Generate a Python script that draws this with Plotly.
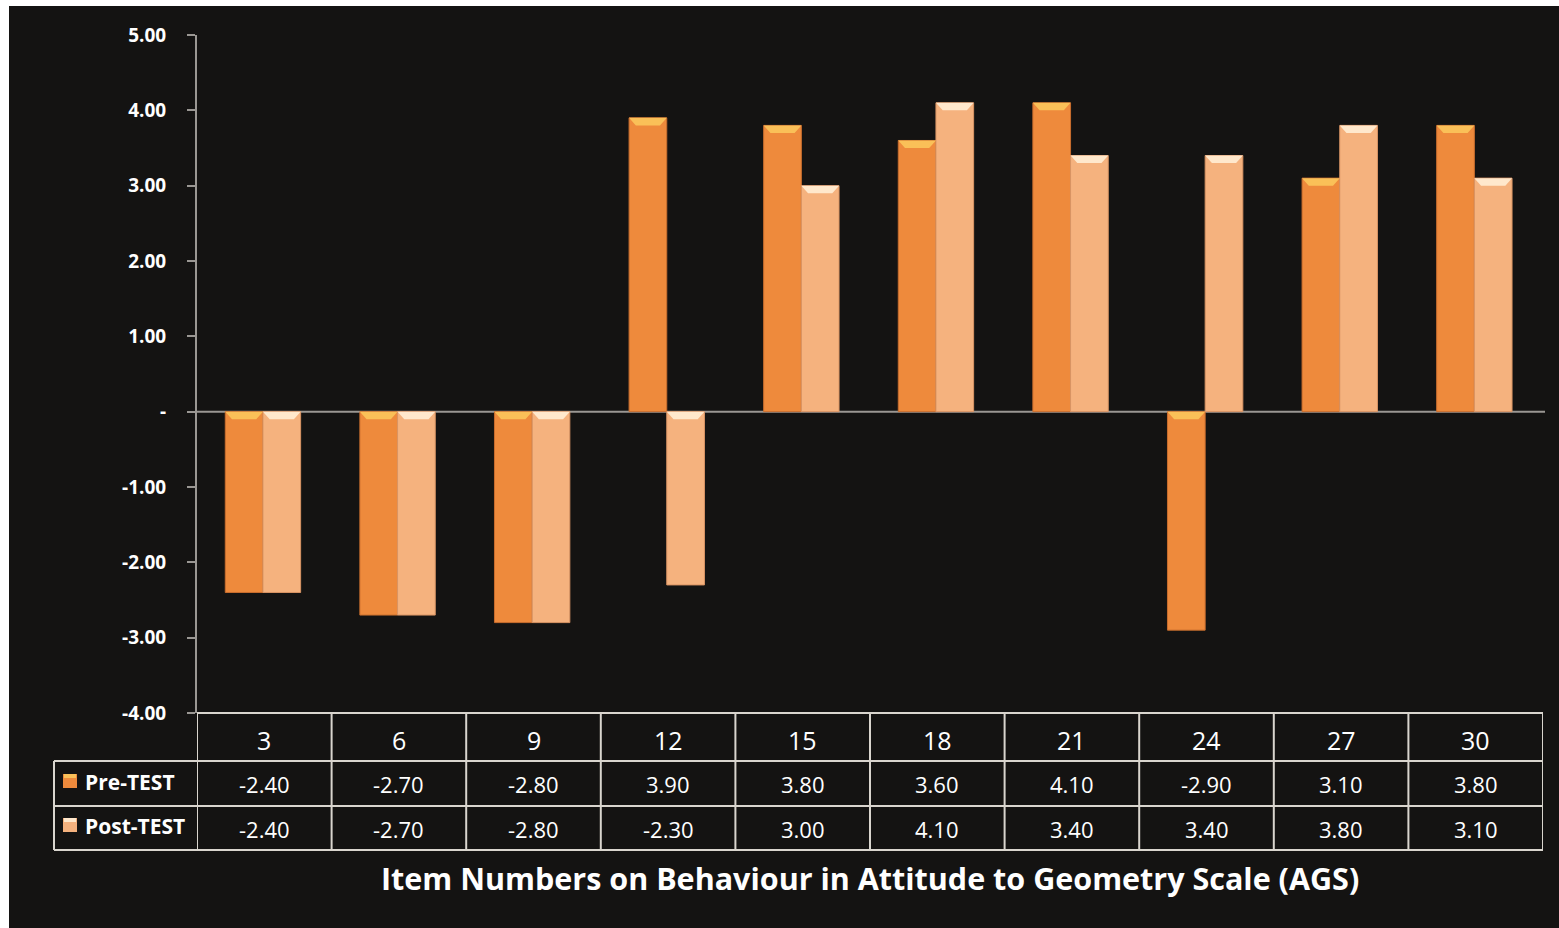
import plotly.graph_objects as go

# Item numbers and mean scores on the Attitude to Geometry Scale
items = [3, 6, 9, 12, 15, 18, 21, 24, 27, 30]
pre_test = [-2.40, -2.70, -2.80, 3.90, 3.80, 3.60, 4.10, -2.90, 3.10, 3.80]
post_test = [-2.40, -2.70, -2.80, -2.30, 3.00, 4.10, 3.40, 3.40, 3.80, 3.10]
series_names = ["Pre-TEST", "Post-TEST"]

y_ticks = [-4, -3, -2, -1, 0, 1, 2, 3, 4, 5]
y_ticktext = ["-4.00", "-3.00", "-2.00", "-1.00", "-", "1.00", "2.00", "3.00", "4.00", "5.00"]

W, H = 1559, 928
L, R, T, B = 197, 16, 35, 215
PW, PH = W - L - R, H - T - B

BG = "#141312"
PRE_C = "#EE8A3C"
POST_C = "#F5B27E"
PRE_HI = "#FAC058"
POST_HI = "#FFE8CC"
LINE_C = "#D9D5CE"
FONT = "Open Sans"

BAR_W = 0.28
OFFSETS = [-0.29, -0.01]


def px(xp):
    """Horizontal pixel position -> paper fraction."""
    return (xp - L) / PW


def py(yp):
    """Vertical pixel position (from top) -> paper fraction."""
    return (H - B - yp) / PH


idx = list(range(len(items)))
fig = go.Figure()

for vals, name, col, edge, off in [(pre_test, series_names[0], PRE_C, "#C96E2E", OFFSETS[0]),
                                   (post_test, series_names[1], POST_C, "#D99464", OFFSETS[1])]:
    fig.add_trace(go.Bar(
        x=idx, y=vals, name=name, width=BAR_W, offset=off,
        marker=dict(color=col, line=dict(color=edge, width=1)),
        showlegend=False, hoverinfo="x+y",
    ))

shapes = []

# bevel highlight along the upper edge of every bar
for vals, off, hi in [(pre_test, OFFSETS[0], PRE_HI), (post_test, OFFSETS[1], POST_HI)]:
    for i, v in zip(idx, vals):
        top = max(v, 0)
        x0, x1 = i + off, i + off + BAR_W
        dx, dh = 0.05, 0.1
        path = (f"M {x0},{top} L {x1},{top} L {x1 - dx},{top - dh} "
                f"L {x0 + dx},{top - dh} Z")
        shapes.append(dict(type="path", path=path, xref="x", yref="y",
                           fillcolor=hi, line=dict(width=0), layer="above"))

# white margins on the top and left edges of the page
shapes.append(dict(type="rect", xref="paper", yref="paper",
                   x0=px(0), x1=px(W), y0=py(6), y1=py(0),
                   fillcolor="white", line=dict(width=0), layer="below"))
shapes.append(dict(type="rect", xref="paper", yref="paper",
                   x0=px(0), x1=px(9), y0=py(H), y1=py(0),
                   fillcolor="white", line=dict(width=0), layer="below"))

# zero line
shapes.append(dict(type="line", xref="paper", yref="y", x0=0, x1=px(1545), y0=0, y1=0,
                   line=dict(color="#9A9793", width=2), layer="below"))

# data table beneath the axis
row_y = [713, 761, 806, 850]
n = len(items)
for k, yy in enumerate(row_y):
    x_left = px(197) if k == 0 else px(54)
    shapes.append(dict(type="line", xref="paper", yref="paper",
                       x0=x_left, x1=1, y0=py(yy), y1=py(yy),
                       line=dict(color=LINE_C, width=2)))
for b in range(n + 1):
    shapes.append(dict(type="line", xref="x", yref="paper",
                       x0=b - 0.5, x1=b - 0.5, y0=py(850), y1=py(713),
                       line=dict(color=LINE_C, width=2)))
shapes.append(dict(type="line", xref="paper", yref="paper",
                   x0=px(54), x1=px(54), y0=py(850), y1=py(761),
                   line=dict(color=LINE_C, width=2)))

annotations = []
for i, it in enumerate(items):
    annotations.append(dict(x=i, y=py(740), xref="x", yref="paper", text=str(it),
                            yanchor="middle", showarrow=False,
                            font=dict(family=FONT, size=25, color="white")))
    annotations.append(dict(x=i, y=py(784), xref="x", yref="paper", text=f"{pre_test[i]:.2f}",
                            yanchor="middle", showarrow=False,
                            font=dict(family=FONT, size=22, color="white")))
    annotations.append(dict(x=i, y=py(829), xref="x", yref="paper", text=f"{post_test[i]:.2f}",
                            yanchor="middle", showarrow=False,
                            font=dict(family=FONT, size=22, color="white")))

# legend keys inside the table
for name, col, hi, yc in [(series_names[0], PRE_C, PRE_HI, 781), (series_names[1], POST_C, POST_HI, 825)]:
    shapes.append(dict(type="rect", xref="paper", yref="paper",
                       x0=px(63), x1=px(77), y0=py(yc + 7), y1=py(yc - 7),
                       fillcolor=col, line=dict(width=0)))
    shapes.append(dict(type="rect", xref="paper", yref="paper",
                       x0=px(64), x1=px(76), y0=py(yc - 3), y1=py(yc - 7),
                       fillcolor=hi, line=dict(width=0)))
    annotations.append(dict(x=px(83), y=py(yc + 1), xref="paper", yref="paper", text=f"<b>{name}</b>",
                            xanchor="left", yanchor="middle", showarrow=False,
                            font=dict(family=FONT, size=21, color="white")))

annotations.append(dict(x=0.5, y=py(878), xref="paper", yref="paper",
                        text="<b>Item Numbers on Behaviour in Attitude to Geometry Scale (AGS)</b>",
                        xanchor="center", yanchor="middle", showarrow=False,
                        font=dict(family=FONT, size=30.5, color="white")))

fig.update_layout(
    width=W, height=H,
    margin=dict(l=L, r=R, t=T, b=B),
    paper_bgcolor=BG, plot_bgcolor=BG,
    barmode="group",
    shapes=shapes, annotations=annotations,
    xaxis=dict(range=[-0.5, n - 0.5], showticklabels=False, showgrid=False,
               zeroline=False, showline=False, ticks=""),
    yaxis=dict(range=[-4, 5], tickvals=y_ticks, ticktext=[f"<b>{t}</b>" for t in y_ticktext],
               showgrid=False, zeroline=False, showline=True, linecolor="#9A9793", linewidth=2,
               ticks="outside", ticklen=8, tickcolor="#9A9793", tickwidth=2,
               tickfont=dict(family=FONT, size=19, color="white"), ticklabelstandoff=17),
    font=dict(family=FONT, color="white"),
)

fig.write_html("out.html")
